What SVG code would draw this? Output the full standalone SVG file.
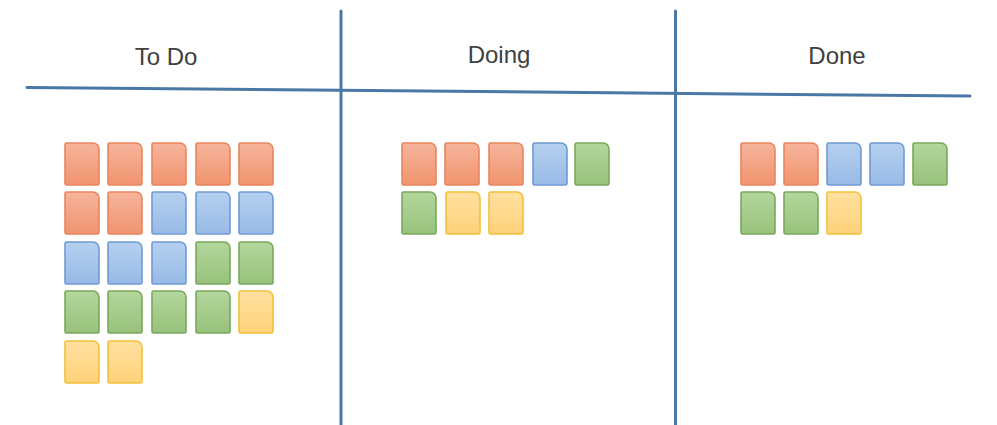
<svg xmlns="http://www.w3.org/2000/svg" xmlns:xlink="http://www.w3.org/1999/xlink" width="997" height="425" viewBox="0 0 997 425">
  <defs>
    <linearGradient id="gO" x1="0" y1="0" x2="0" y2="1"><stop offset="0" stop-color="#F6B49B"/><stop offset="1" stop-color="#F1946F"/></linearGradient>
    <linearGradient id="gB" x1="0" y1="0" x2="0" y2="1"><stop offset="0" stop-color="#B5D0F0"/><stop offset="1" stop-color="#98BAE6"/></linearGradient>
    <linearGradient id="gG" x1="0" y1="0" x2="0" y2="1"><stop offset="0" stop-color="#B3D69C"/><stop offset="1" stop-color="#98C27C"/></linearGradient>
    <linearGradient id="gY" x1="0" y1="0" x2="0" y2="1"><stop offset="0" stop-color="#FFE0A0"/><stop offset="1" stop-color="#FFD27A"/></linearGradient>
    <path id="card" d="M1.5,0 H28 A6,6 0 0 1 34,6 V40.5 Q34,42 32.5,42 H1.5 Q0,42 0,40.5 V1.5 Q0,0 1.5,0 Z"/>
  </defs>
  <style>
    .o { fill: url(#gO); stroke: #E98560; stroke-width: 1.6; }
    .b { fill: url(#gB); stroke: #6E9BD3; stroke-width: 1.6; }
    .g { fill: url(#gG); stroke: #79A85C; stroke-width: 1.6; }
    .y { fill: url(#gY); stroke: #F2C139; stroke-width: 1.6; }
    .line { stroke: #4A78A4; stroke-width: 3; fill: none; stroke-linecap: round; }
    .hdr { font-family: "Liberation Sans", Arial, sans-serif; font-size: 24px; fill: #404040; text-anchor: middle; }
  </style>
  <rect width="997" height="425" fill="#FFFFFF"/>

  <g id="connectors">
    <line class="line" x1="27" y1="87.5" x2="970" y2="96"/>
    <line class="line" x1="341" y1="11" x2="341" y2="425"/>
    <line class="line" x1="675.5" y1="11" x2="675.5" y2="425"/>
  </g>

  <g id="todo">
    <text class="hdr" x="166" y="65">To Do</text>
    <use xlink:href="#card" class="o" x="65" y="143"/>
    <use xlink:href="#card" class="o" x="108" y="143"/>
    <use xlink:href="#card" class="o" x="152" y="143"/>
    <use xlink:href="#card" class="o" x="196" y="143"/>
    <use xlink:href="#card" class="o" x="239" y="143"/>
    <use xlink:href="#card" class="o" x="65" y="192"/>
    <use xlink:href="#card" class="o" x="108" y="192"/>
    <use xlink:href="#card" class="b" x="152" y="192"/>
    <use xlink:href="#card" class="b" x="196" y="192"/>
    <use xlink:href="#card" class="b" x="239" y="192"/>
    <use xlink:href="#card" class="b" x="65" y="242"/>
    <use xlink:href="#card" class="b" x="108" y="242"/>
    <use xlink:href="#card" class="b" x="152" y="242"/>
    <use xlink:href="#card" class="g" x="196" y="242"/>
    <use xlink:href="#card" class="g" x="239" y="242"/>
    <use xlink:href="#card" class="g" x="65" y="291"/>
    <use xlink:href="#card" class="g" x="108" y="291"/>
    <use xlink:href="#card" class="g" x="152" y="291"/>
    <use xlink:href="#card" class="g" x="196" y="291"/>
    <use xlink:href="#card" class="y" x="239" y="291"/>
    <use xlink:href="#card" class="y" x="65" y="341"/>
    <use xlink:href="#card" class="y" x="108" y="341"/>
  </g>

  <g id="doing">
    <text class="hdr" x="499" y="63">Doing</text>
    <use xlink:href="#card" class="o" x="402" y="143"/>
    <use xlink:href="#card" class="o" x="445" y="143"/>
    <use xlink:href="#card" class="o" x="489" y="143"/>
    <use xlink:href="#card" class="b" x="533" y="143"/>
    <use xlink:href="#card" class="g" x="575" y="143"/>
    <use xlink:href="#card" class="g" x="402" y="192"/>
    <use xlink:href="#card" class="y" x="446" y="192"/>
    <use xlink:href="#card" class="y" x="489" y="192"/>
  </g>

  <g id="done">
    <text class="hdr" x="837" y="64">Done</text>
    <use xlink:href="#card" class="o" x="741" y="143"/>
    <use xlink:href="#card" class="o" x="784" y="143"/>
    <use xlink:href="#card" class="b" x="827" y="143"/>
    <use xlink:href="#card" class="b" x="870" y="143"/>
    <use xlink:href="#card" class="g" x="913" y="143"/>
    <use xlink:href="#card" class="g" x="741" y="192"/>
    <use xlink:href="#card" class="g" x="784" y="192"/>
    <use xlink:href="#card" class="y" x="827" y="192"/>
  </g>
</svg>
